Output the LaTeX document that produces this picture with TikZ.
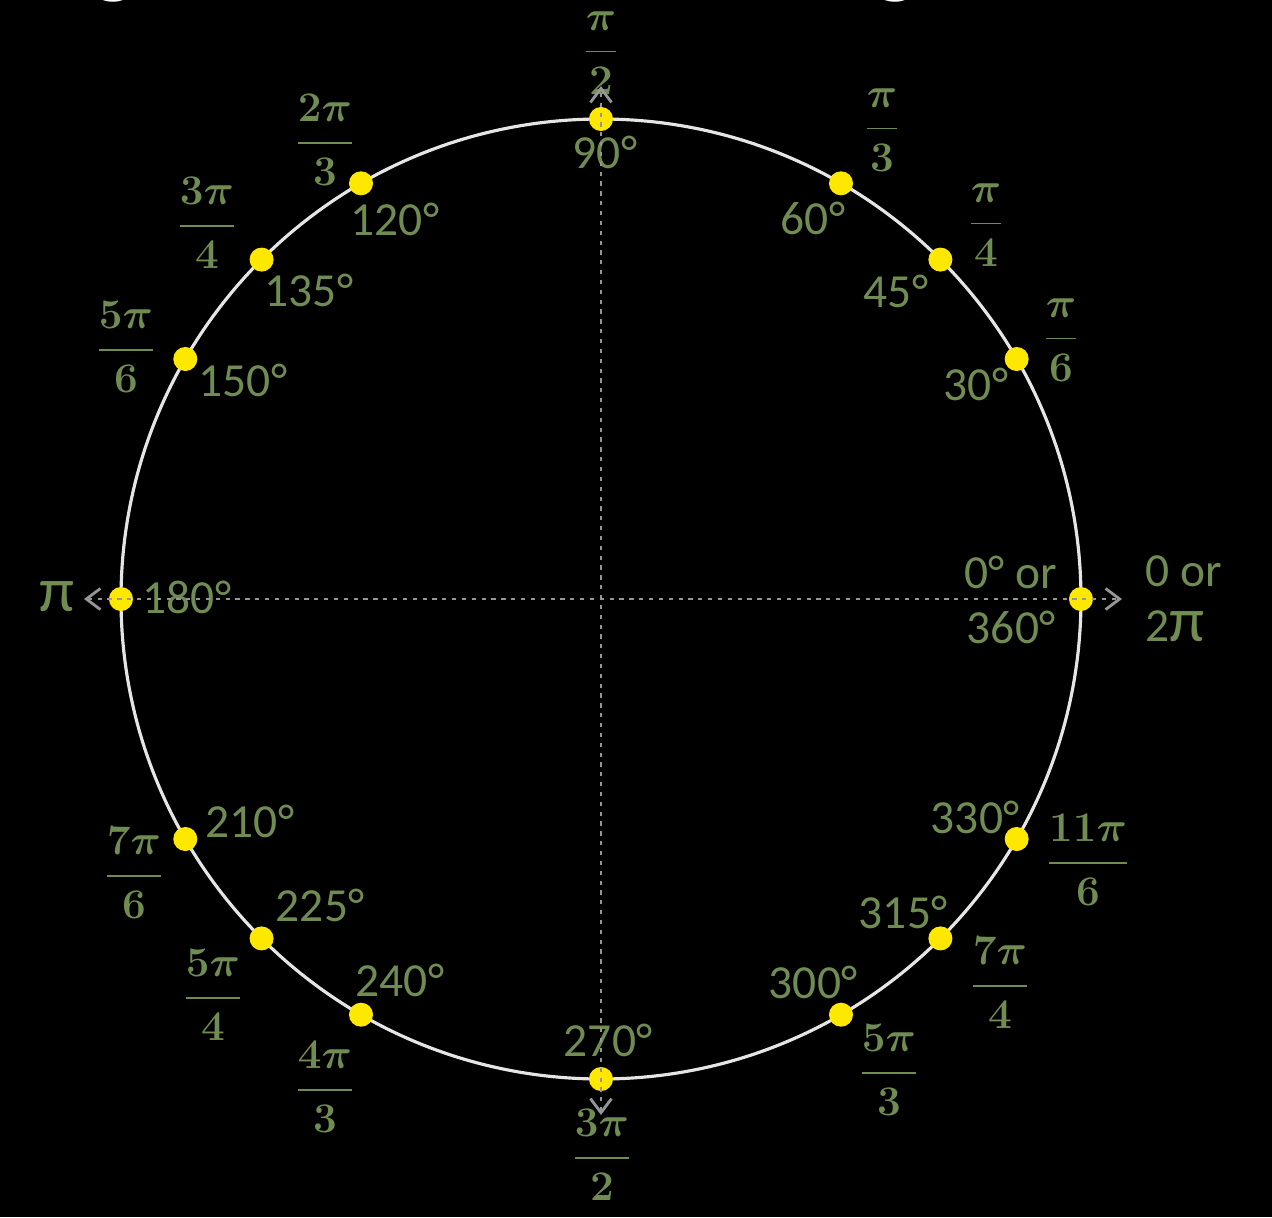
\documentclass[tikz,border=0pt]{standalone}
\usepackage[no-math]{fontspec}
\setmainfont{Carlito}
\usepackage{amsmath}
\usepackage{xcolor}
\usepackage{tikz}
\usetikzlibrary{arrows.meta}
\definecolor{lblgreen}{RGB}{112,140,82}
\definecolor{dotyellow}{RGB}{255,232,0}
\definecolor{axisgray}{RGB}{150,150,150}
\newcommand{\bigpi}{{\fontsize{18}{15.6}\selectfont π}}
\tikzset{
  deg/.style = {text=lblgreen, font=\fontsize{13.5}{15.6}\selectfont, inner sep=0pt},
  rad/.style = {text=lblgreen, font=\fontsize{13}{15}\selectfont\boldmath, inner sep=0pt},
  spot/.style = {circle, fill=dotyellow, minimum size=0.24cm, inner sep=0pt},
  ring/.style = {white!90!black, line width=0.9pt},
  axis/.style = {axisgray, line width=0.8pt, dash pattern=on 1.2pt off 1.6pt,
    {Straight Barb[length=4pt,width=6pt]}-{Straight Barb[length=4pt,width=6pt]}}
}

\begin{document}
\begin{tikzpicture}[x=0.01cm,y=0.01cm]

\path[use as bounding box, fill=black] (-601,599) rectangle (671,-618);

\node[anchor=base, text=white, font=\fontsize{26}{30}\selectfont, inner sep=0pt] (t1) at (-487,613) {g};
\node[anchor=base, text=white, font=\fontsize{26}{30}\selectfont, inner sep=0pt] (t2) at (295,613) {g};

\coordinate (O) at (0,0);
\draw[ring] (O) circle[radius=480];

\foreach \a in {0,30,45,60,90,120,135,150,180,210,225,240,270,300,315,330}{
   \node[spot] (d\a) at (\a:480) {};
}

\foreach \a/\x/\y in {90/4/447, 120/-206/380, 135/-292/309, 150/-358/219,
                      60/212/381, 45/295/308, 30/375/215,
                      210/-351/-222, 225/-281/-306, 240/-201/-381,
                      270/7/-441, 300/212/-383, 315/302/-313, 330/374/-218}{
   \node[deg] (g\a) at (\x,\y) {\a°};
}

\node[deg] (g180) at (-414,2) {180°};
\node[deg] (r180) at (-544,2) {\bigpi};
\node[deg, align=center] (g0) at (410,-1) {0° or\\360°};
\node[deg, align=left, anchor=west] (r0) at (544,0) {0 or\\2\bigpi};

\foreach \a/\n/\dd/\x/\y in {90/\pi/2/0/546, 120/2\pi/3/-276/459, 135/3\pi/4/-394/376,
                             150/5\pi/6/-475/252, 60/\pi/3/281/469, 45/\pi/4/385/374,
                             30/\pi/6/460/259, 210/7\pi/6/-467/-274, 225/5\pi/4/-388/-396,
                             240/4\pi/3/-276/-488, 330/11\pi/6/487/-261, 315/7\pi/4/399/-384,
                             300/5\pi/3/288/-471, 270/3\pi/2/1/-556}{
   \node[rad] (f\a) at (\x,\y) {$\dfrac{\n}{\dd}$};
}

\coordinate (xl) at (-517,0);
\coordinate (xr) at (521,0);
\coordinate (yt) at (0,513);
\coordinate (yb) at (0,-516);
\draw[axis] (xl) -- (xr);
\draw[axis] (yb) -- (yt);

\end{tikzpicture}
\end{document}
